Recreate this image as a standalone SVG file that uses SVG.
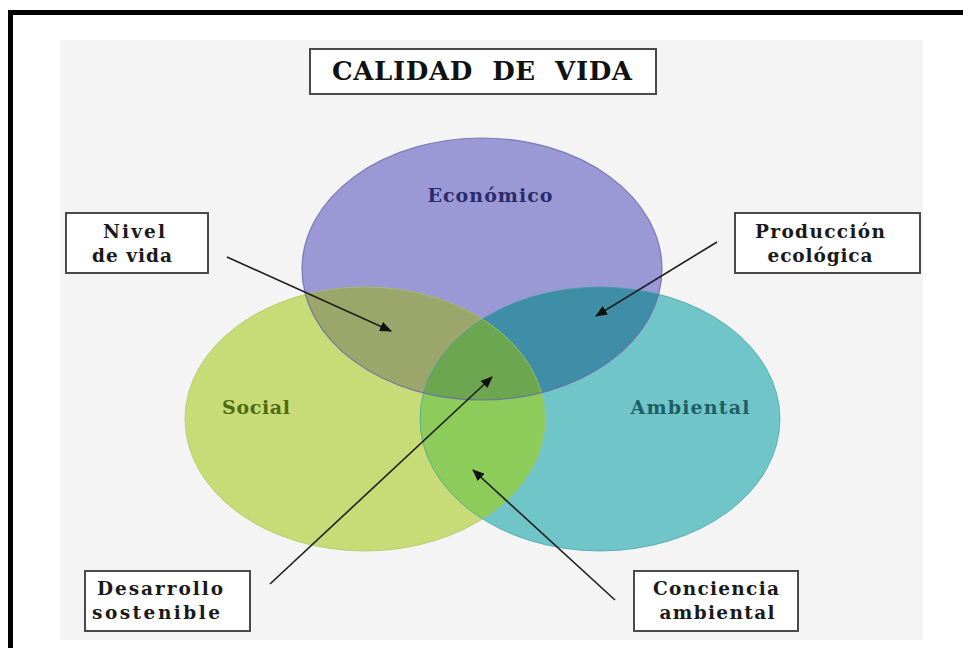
<svg xmlns="http://www.w3.org/2000/svg" width="963" height="648" viewBox="0 0 963 648">
  <style>
    .frame { fill: #000; }
    .box { fill: #ffffff; stroke: #4a4a4a; stroke-width: 2; }
    .bt { font-family: "DejaVu Serif", "Liberation Serif", serif; font-weight: bold; font-size: 18.5px; fill: #1a1a1a; text-anchor: middle; }
    .title { font-family: "DejaVu Serif", "Liberation Serif", serif; font-weight: bold; font-size: 26px; fill: #111; text-anchor: middle; }
    .lab { font-family: "DejaVu Serif", "Liberation Serif", serif; font-weight: bold; font-size: 19px; text-anchor: middle; }
    .conn { stroke: #1e1e1e; stroke-width: 1.6; fill: none; marker-end: url(#ah); }
  </style>
  <defs>
    <marker id="ah" viewBox="0 0 12 10" refX="11" refY="5" markerWidth="12" markerHeight="10" markerUnits="userSpaceOnUse" orient="auto">
      <path d="M0,0 L12,5 L0,10 Z" fill="#111"/>
    </marker>
    <clipPath id="cE"><ellipse cx="482" cy="269" rx="180" ry="131"/></clipPath>
    <clipPath id="cS"><ellipse cx="365" cy="419" rx="180" ry="132"/></clipPath>
  </defs>

  <rect x="0" y="0" width="963" height="648" fill="#ffffff"/>
  <rect x="60" y="40" width="863" height="600" fill="#f4f4f4"/>
  <rect class="frame" x="8" y="10" width="955" height="5"/>
  <rect class="frame" x="8" y="10" width="5" height="638"/>

  <g id="venn">
    <ellipse cx="365" cy="419" rx="180" ry="132" fill="#c7dc77"/>
    <ellipse cx="600" cy="419" rx="180" ry="132" fill="#70c5c8"/>
    <ellipse cx="482" cy="269" rx="180" ry="131" fill="#9a98d5"/>
    <g clip-path="url(#cE)">
      <ellipse cx="365" cy="419" rx="180" ry="132" fill="#9ba66b"/>
      <ellipse cx="600" cy="419" rx="180" ry="132" fill="#3f8ea7"/>
    </g>
    <g clip-path="url(#cS)">
      <ellipse cx="600" cy="419" rx="180" ry="132" fill="#8dcb5b"/>
    </g>
    <g clip-path="url(#cE)">
      <g clip-path="url(#cS)">
        <ellipse cx="600" cy="419" rx="180" ry="132" fill="#6da650"/>
      </g>
    </g>
    <ellipse cx="365" cy="419" rx="180" ry="132" fill="none" stroke="#a9c455" stroke-width="1" opacity="0.7"/>
    <ellipse cx="600" cy="419" rx="180" ry="132" fill="none" stroke="#3f9fa3" stroke-width="1" opacity="0.7"/>
    <ellipse cx="482" cy="269" rx="180" ry="131" fill="none" stroke="#6a68a8" stroke-width="1.2" opacity="0.8"/>
  </g>

  <g id="title">
    <rect class="box" x="310" y="49" width="346" height="45"/>
    <text class="title" x="482" y="80" textLength="300" lengthAdjust="spacing" xml:space="preserve">CALIDAD  DE  VIDA</text>
  </g>

  <g id="economico"><text class="lab" x="490" y="202" fill="#2b2b6b" textLength="125" lengthAdjust="spacing">Económico</text></g>
  <g id="social"><text class="lab" x="256" y="414" fill="#4d6b12" textLength="68" lengthAdjust="spacing">Social</text></g>
  <g id="ambiental"><text class="lab" x="690" y="414" fill="#1e5e68" textLength="119" lengthAdjust="spacing">Ambiental</text></g>

  <g id="connectors">
    <line class="conn" x1="227" y1="257" x2="391" y2="331"/>
    <line class="conn" x1="717" y1="242" x2="596" y2="316"/>
    <line class="conn" x1="270" y1="584" x2="492" y2="377"/>
    <line class="conn" x1="615" y1="600" x2="473" y2="470"/>
  </g>

  <g id="nivel">
    <rect class="box" x="66" y="213" width="142" height="60"/>
    <text class="bt" x="134" y="238" textLength="62" lengthAdjust="spacing">Nivel</text>
    <text class="bt" x="132" y="262" textLength="80" lengthAdjust="spacing">de vida</text>
  </g>
  <g id="produccion">
    <rect class="box" x="735" y="213" width="185" height="60"/>
    <text class="bt" x="820" y="238" textLength="130" lengthAdjust="spacing">Producción</text>
    <text class="bt" x="820" y="262" textLength="105" lengthAdjust="spacing">ecológica</text>
  </g>
  <g id="desarrollo">
    <rect class="box" x="85" y="571" width="165" height="60"/>
    <text class="bt" x="160" y="595" textLength="126" lengthAdjust="spacing">Desarrollo</text>
    <text class="bt" x="156" y="619" textLength="128" lengthAdjust="spacing">sostenible</text>
  </g>
  <g id="conciencia">
    <rect class="box" x="634" y="571" width="164" height="60"/>
    <text class="bt" x="716" y="595" textLength="126" lengthAdjust="spacing">Conciencia</text>
    <text class="bt" x="717" y="619" textLength="115" lengthAdjust="spacing">ambiental</text>
  </g>
</svg>
